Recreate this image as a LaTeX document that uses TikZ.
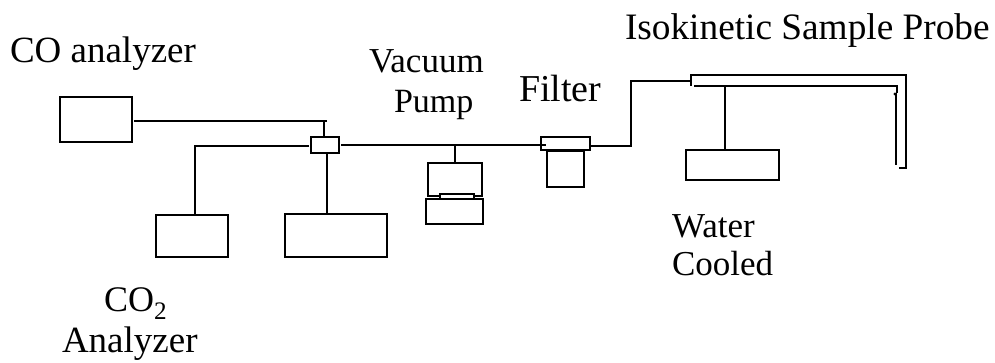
\documentclass[tikz,border=0pt]{standalone}
\usepackage{fontspec}
\setmainfont{Liberation Serif}
\usetikzlibrary{calc}
\tikzset{
  bx/.style={draw=black,line width=1.7pt,fill=none,inner sep=0pt,outer sep=0pt},
  pipe/.style={draw=black,line width=1.5pt},
  heavy pipe/.style={draw=black,line width=2.2pt},
  lbl/.style={inner sep=0pt,outer sep=0pt,anchor=base west,text=black},
}
\newcommand{\boxat}[6][]{\node[bx,minimum width={(#4-#2)*1pt},minimum height={(#5-#3)*1pt},#1] (#6) at ({(#2+#4)/2},{(#3+#5)/2}) {};}
\newcommand{\lsize}[1]{\fontsize{#1}{#1}\selectfont}
\begin{document}
\begin{tikzpicture}[x=1pt,y=-1pt]
\useasboundingbox (0,0) rectangle (995,363);
% boxes
\boxat{60}{97}{132}{142}{cobox}
\boxat{311}{137}{339}{153}{junction}
\boxat{156}{215}{228}{257}{cotwo}
\boxat{285}{214}{387}{257}{third}
\boxat{428}{163}{482}{196}{pumptop}
\boxat{426}{199}{483}{224}{pumpbase}
\boxat[fill=white,line width=1.2pt]{440}{194}{474}{198.5}{pumplink}
\boxat{541}{137}{590}{150}{filtertop}
\boxat{547}{151}{584}{187}{filterbowl}
\boxat{686}{150}{779}{180}{water}
% free coordinates
\coordinate (coend) at (327,121);
\coordinate (codrop) at (324,121);
\coordinate (cotwobend) at (195,146);
\coordinate (mainy) at (0,145);
\coordinate (pumptee) at (455,145);
\coordinate (riser) at (631,146);
\coordinate (riserTop) at (631,81);
\coordinate (probeIn) at (691,81);
\coordinate (pTL) at (691,75);
\coordinate (pTLb) at (691,86);
\coordinate (pTR) at (906,75);
\coordinate (pBR) at (906,168);
\coordinate (pBE) at (899,168);
\coordinate (iL) at (694,86);
\coordinate (iR) at (897,86);
\coordinate (iRb) at (897,93);
\coordinate (iV) at (896,93);
\coordinate (iE) at (896,165);
\coordinate (stemTop) at (725,86);
\coordinate (thirdTap) at (327,0);
% connectors
\draw[pipe] ([xshift=2]cobox.east |- coend) -- (coend);
\draw[pipe] (codrop) -- (codrop |- junction.north);
\draw[pipe,line width=1.8pt] ([xshift=-2]junction.west |- cotwobend) -- (cotwobend) -- (cotwobend |- cotwo.north);
\draw[pipe] (thirdTap |- junction.south) -- (thirdTap |- third.north);
\draw[pipe] ([xshift=2]junction.east |- mainy) -- ([xshift=5]filtertop.west |- mainy);
\draw[heavy pipe] (pumptee) -- (pumptee |- pumptop.north);
\draw[pipe,line width=1.7pt] (filtertop.east |- riser) -- (riser) -- (riserTop) -- (probeIn);
\draw[pipe,line width=1.8pt] (pTLb) -- (pTL) -- (pTR) -- (pBR) -- (pBE);
\draw[pipe,line width=1.8pt] (iL) -- (iR) -- (iRb);
\draw[pipe] (iV) -- (iE);
\draw[pipe] (stemTop) -- (stemTop |- water.north);
\fill[black] (895,94) circle (1.6);
% labels
\node[lbl] (t1) at (10,63) {\lsize{37}CO analyzer};
\node[lbl] (t2) at (369,73) {\lsize{35}Vacuum};
\node[lbl] (t3) at (394,113) {\lsize{34}Pump};
\node[lbl] (t4) at (519,102) {\lsize{38}Filter};
\node[lbl] (t5) at (625,40) {\lsize{37.3}Isokinetic Sample Probe};
\node[lbl] (t6) at (672,238) {\lsize{35}Water};
\node[lbl] (t7) at (672,276) {\lsize{35}Cooled};
\node[lbl] (t8) at (104,311) {\lsize{36}CO\textsubscript{2}};
\node[lbl] (t9) at (62,352) {\lsize{37}Analyzer};
\end{tikzpicture}
\end{document}
